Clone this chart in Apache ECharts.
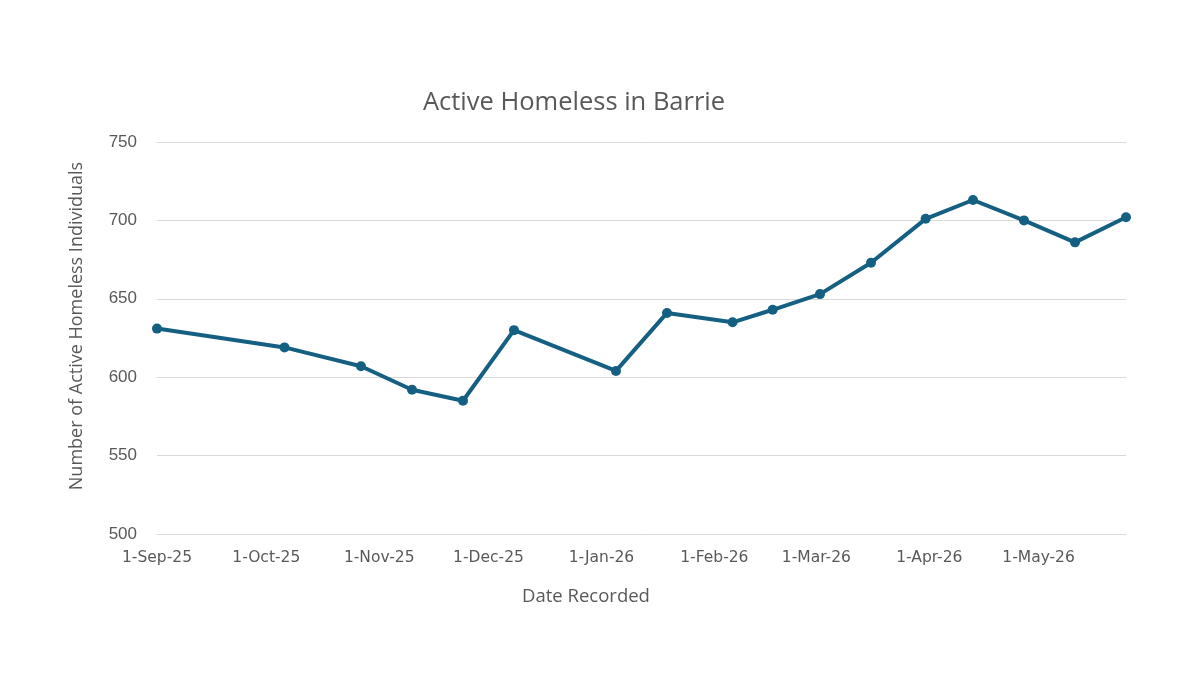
<!DOCTYPE html>
<html>
<head>
<meta charset="utf-8">
<script src="https://cdn.jsdelivr.net/npm/echarts@6/dist/echarts.min.js"></script>
<style>
html,body{margin:0;padding:0;background:#fff;}
#chart{width:1200px;height:675px;}
</style>
</head>
<body>
<div id="chart"></div>
<script>
// ---- Data ----
var chartTitle = 'Active Homeless in Barrie';
var xAxisTitle = 'Date Recorded';
var yAxisTitle = 'Number of Active Homeless Individuals';

var dates = [
  '2025-09-01','2025-10-06','2025-10-27','2025-11-10','2025-11-24','2025-12-08',
  '2026-01-05','2026-01-19','2026-02-06','2026-02-17','2026-03-02','2026-03-16',
  '2026-03-31','2026-04-13','2026-04-27','2026-05-11','2026-05-25'
];
var values = [631, 619, 607, 592, 585, 630, 604, 641, 635, 643, 653, 673, 701, 713, 700, 686, 702];

var xTickDates = ['2025-09-01','2025-10-01','2025-11-01','2025-12-01','2026-01-01',
                  '2026-02-01','2026-03-01','2026-04-01','2026-05-01'];
var yMin = 500, yMax = 750, yStep = 50;

// ---- Helpers ----
var MONTHS = ['Jan','Feb','Mar','Apr','May','Jun','Jul','Aug','Sep','Oct','Nov','Dec'];
function ts(s){ var p = s.split('-'); return Date.UTC(+p[0], +p[1]-1, +p[2]); }
function fmt(v){ var d = new Date(v); return d.getUTCDate() + '-' + MONTHS[d.getUTCMonth()] + '-' + String(d.getUTCFullYear()).slice(2); }

var seriesData = dates.map(function(d, i){ return [ts(d), values[i]]; });
var tickValues = xTickDates.map(ts);

var chart = echarts.init(document.getElementById('chart'), null, {renderer: 'canvas'});
var grey = '#595959';
chart.setOption({
  backgroundColor: '#ffffff',
  animation: false,
  grid: {left: 157, right: 74, top: 142, bottom: 141, containLabel: false},
  xAxis: {
    type: 'value',
    min: ts(dates[0]),
    max: ts(dates[dates.length - 1]),
    axisLine: {show: false},
    axisTick: {show: false},
    splitLine: {show: false},
    axisLabel: {
      customValues: tickValues,
      formatter: function(v){ return fmt(v); },
      color: grey,
      fontFamily: 'DejaVu Sans',
      fontSize: 15.5,
      margin: 16,
      hideOverlap: false
    }
  },
  yAxis: {
    type: 'value',
    min: yMin, max: yMax, interval: yStep,
    axisLine: {show: false},
    axisTick: {show: false},
    splitLine: {show: true, lineStyle: {color: '#d9d9d9', width: 1}},
    axisLabel: {color: grey, fontFamily: 'Liberation Sans', fontSize: 17, margin: 20}
  },
  series: [{
    type: 'line',
    data: seriesData,
    symbol: 'circle',
    symbolSize: 10,
    lineStyle: {color: '#156082', width: 4},
    itemStyle: {color: '#156082'},
    z: 3
  }],
  graphic: [
    {type: 'text', x: 574, y: 103,
     style: {text: chartTitle, fill: grey, font: '25.5px "Open Sans"', textAlign: 'center', textVerticalAlign: 'middle'}},
    {type: 'text', x: 586, y: 597,
     style: {text: xAxisTitle, fill: grey, font: '18.5px "Open Sans"', textAlign: 'center', textVerticalAlign: 'middle'}},
    {type: 'text', x: 77, y: 326, rotation: Math.PI / 2,
     style: {text: yAxisTitle, fill: grey, font: '18px "Open Sans"', textAlign: 'center', textVerticalAlign: 'middle'}}
  ]
});
</script>
</body>
</html>
